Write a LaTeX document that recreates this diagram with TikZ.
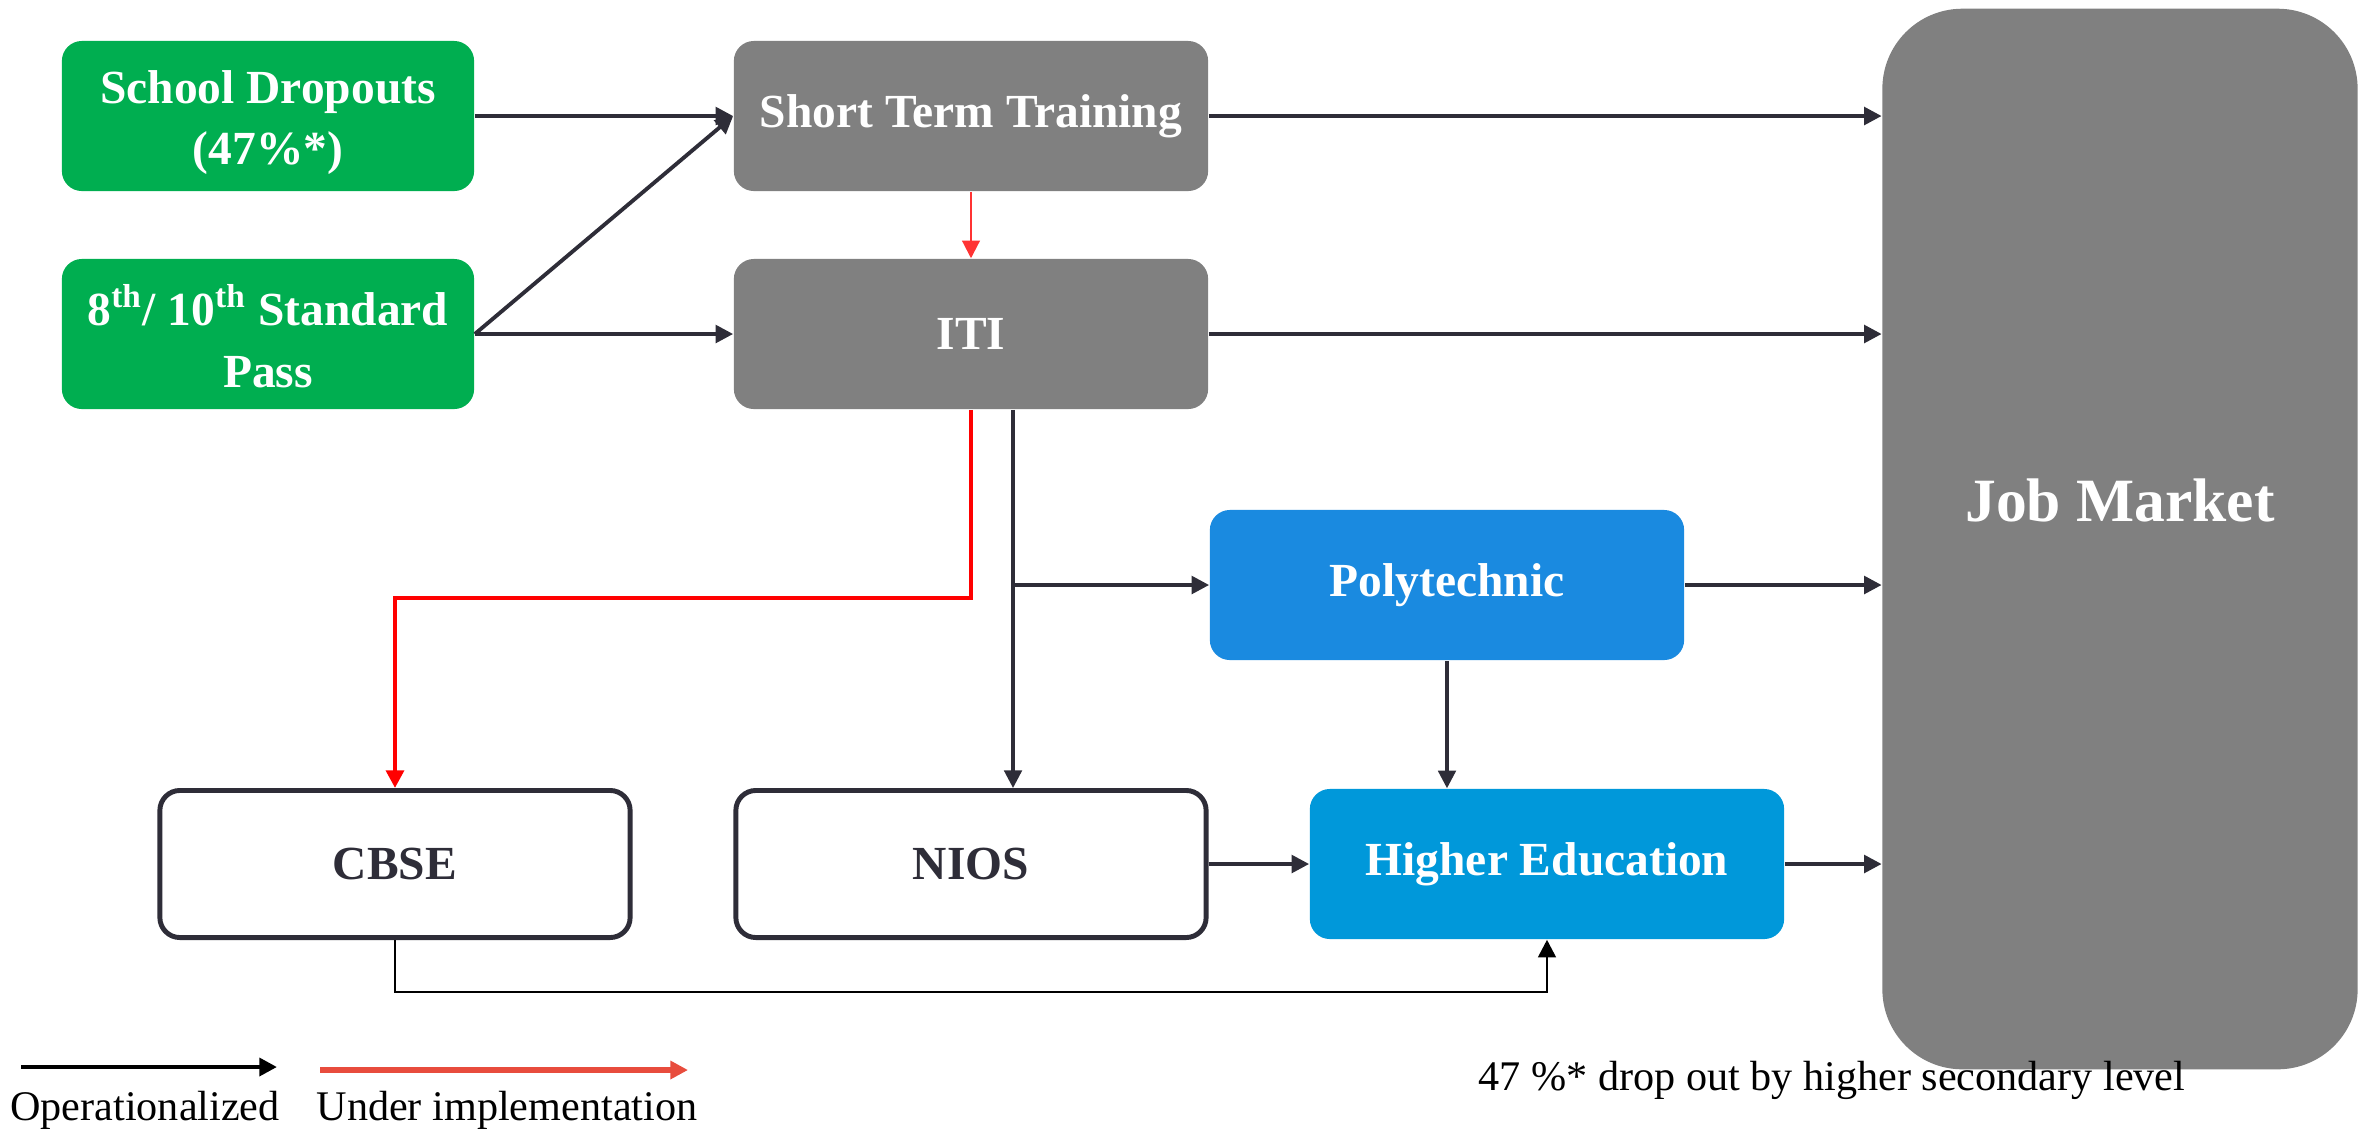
\documentclass[tikz,border=0pt]{standalone}
\usepackage{fontspec}
\setmainfont{Liberation Serif}
\usepackage{tikz}
\usetikzlibrary{arrows.meta}

\definecolor{boxgreen}{RGB}{0,174,80}
\definecolor{boxgrey}{RGB}{128,128,128}
\definecolor{polyblue}{RGB}{26,138,224}
\definecolor{highblue}{RGB}{0,152,218}
\definecolor{darkline}{RGB}{46,45,56}
\definecolor{legendred}{RGB}{232,76,61}

\tikzset{
	box/.style={rectangle, rounded corners=0.2cm, minimum width=4.74cm, minimum height=1.5cm,
		align=center, text=white, font=\bfseries\fontsize{13.5}{17.5}\selectfont},
	greenbox/.style={box, fill=boxgreen, minimum width=4.12cm},
	greybox/.style={box, fill=boxgrey},
	outlinebox/.style={box, draw=darkline, line width=1.4pt, fill=white, text=darkline,
		minimum width=4.7cm, minimum height=1.47cm},
	polybox/.style={box, fill=polyblue},
	highbox/.style={box, fill=highblue},
	jobbox/.style={rectangle, rounded corners=0.8cm, fill=boxgrey, minimum width=4.75cm,
		minimum height=10.6cm},
	opline/.style={->, draw=darkline, line width=1.1pt},
	planline/.style={->, draw=red, line width=1.2pt},
	notetext/.style={font=\fontsize{12}{14}\selectfont, text=black}
}

\begin{document}
\begin{tikzpicture}[x=0.01cm, y=-0.01cm, >={Triangle[length=5pt,width=5pt]}]
	\useasboundingbox (0,0) rectangle (2374,1132);

	% Entry points
	\node[greenbox] (drop) at (268,116) {\rule{0pt}{13pt}School Dropouts\\(47\%*)};
	\node[greenbox] (pass) at (268,334) {\rule{0pt}{13pt}8\textsuperscript{th}/ 10\textsuperscript{th} Standard\\Pass};

	% Training
	\node[greybox] (stt) at (971,116) {Short Term Training};
	\node[greybox] (iti) at (971,334) {ITI};

	% Further education
	\node[polybox] (poly) at (1447,585) {Polytechnic};
	\node[outlinebox] (cbse) at (395,864) {CBSE};
	\node[outlinebox] (nios) at (971,864) {NIOS};
	\node[highbox] (high) at (1547,864) {Higher Education};

	% Job market
	\node[jobbox, label={[text=white, font=\bfseries\fontsize{17.5}{20}\selectfont, yshift=0.39cm]center:Job Market}] (job) at (2120,539) {};

	% Operationalized paths
	\draw[opline] (drop.east) -- (stt.west);
	\draw[opline] (pass.east) -- (stt.west);
	\draw[opline] (pass.east) -- (iti.west);
	\draw[opline] (stt.east) -- (stt.east -| job.west);
	\draw[opline] (iti.east) -- (iti.east -| job.west);
	\draw[opline] (poly.east) -- (poly.east -| job.west);
	\draw[opline] (high.east) -- (high.east -| job.west);
	\draw[opline, line width=0.9pt] ([xshift=0.42cm]iti.south) -- ([xshift=0.42cm]iti.south |- nios.north);
	\coordinate (split) at ([xshift=0.42cm]iti.south |- poly.west);
	\draw[opline] (split) -- (poly.west);
	\draw[opline, line width=0.9pt] (poly.south) -- (poly.south |- high.north);
	\draw[opline] (nios.east) -- (high.west);
	\draw[opline, draw=black, line width=0.8pt] (cbse.south) -- ++(0,52) -| (high.south);

	% Paths under implementation
	\draw[planline, draw={rgb,255:red,255;green,51;blue,51}, line width=0.6pt] (stt.south) -- (iti.north);
	\draw[planline] (iti.south) -- ++(0,188) -| (cbse.north);

	% Legend
	\coordinate (opA) at (21,1067);
	\coordinate (opB) at (277,1067);
	\draw[opline, draw=black, line width=1.4pt] (opA) -- (opB);
	\node[notetext] (optext) at (145,1110) {Operationalized};
	\coordinate (plA) at (320,1070);
	\coordinate (plB) at (688,1070);
	\draw[->, draw=legendred, line width=1.7pt] (plA) -- (plB);
	\node[notetext] (pltext) at (507,1110) {Under implementation};
	\node[notetext] (note) at (1832,1080) {47 \%* drop out by higher secondary level};
\end{tikzpicture}
\end{document}
